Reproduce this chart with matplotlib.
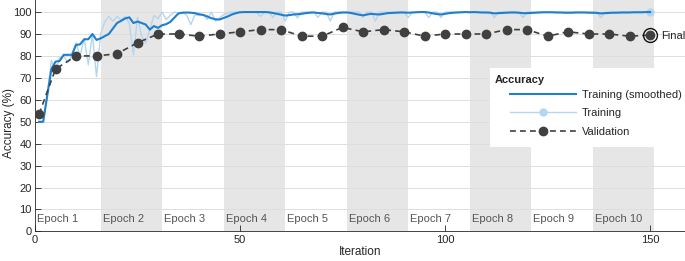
import numpy as np
import matplotlib
matplotlib.use("Agg")
import matplotlib.pyplot as plt
from matplotlib.patches import Rectangle

plt.rcParams['font.family'] = ['Liberation Sans', 'DejaVu Sans']

# training accuracy per iteration (1..150)
train_raw = [50, 50, 63, 78, 73, 79, 80, 77, 80, 86,
             80, 88, 76, 90, 70.5, 90, 95.5, 98, 95.8, 98,
             96.5, 98, 94.8, 80.5, 97.5, 89, 86, 92, 98.5, 97,
             100, 96.6, 98.5, 100, 99.5, 100, 98.5, 94.3, 98.7, 98.5,
             98.9, 96.6, 100, 95.9, 97.3, 98.9, 99.5, 100, 100, 100,
             100, 100, 100, 100, 98, 100, 100, 97.6, 100, 100,
             95.9, 100, 100, 97.3, 100, 100, 100, 100, 97.6, 100,
             100, 95.9, 100, 100, 100, 100, 100, 100, 100, 97.6,
             100, 100, 95.9, 100, 100, 100, 100, 100, 100, 100,
             97.5, 100, 100, 100, 100, 97.5, 100, 100, 97.5, 100,
             100, 100, 100, 100, 100, 100, 100, 100, 100, 100,
             100, 97.5, 100, 100, 100, 100, 100, 100, 97.5, 100,
             100, 100, 100, 100, 100, 100, 100, 100, 100, 100,
             100, 100, 100, 100, 100, 100, 100, 97.5, 100, 100,
             100, 100, 100, 100, 100, 100, 100, 100, 100, 100]

train_smooth = [50, 50, 62, 74, 77.4, 77.7, 80.5, 80.5, 80.5, 85,
                85.3, 87.6, 87.6, 90, 87.3, 88, 89, 90, 92.5, 95,
                96, 97.1, 97.6, 95, 95.7, 95, 94.3, 92, 93.6, 92.8,
                94, 94.5, 95.5, 97.5, 99.4, 99.7, 99.8, 99.7, 99.5, 99,
                98.7, 98, 97.2, 96.7, 96.6, 97.3, 98, 98.9, 99.5, 99.9,
                100, 100, 100, 100, 100, 100, 99.9, 99.6, 99.2, 98.8,
                98.4, 98.6, 98.9, 99, 99.2, 99.5, 99.7, 99.8, 99.6, 99.4,
                99.1, 98.9, 99.3, 99.6, 99.8, 99.8, 99.6, 99.2, 98.8, 98.5,
                98.9, 99.2, 99, 98.9, 99.2, 99.5, 99.6, 99.7, 99.8, 99.8,
                99.7, 99.8, 99.9, 100, 100, 99.8, 99.4, 99.1, 98.9, 99.2,
                99.5, 99.7, 99.8, 99.9, 100, 99.9, 100, 99.9, 99.8, 99.8,
                99.7, 99.4, 99.5, 99.6, 99.7, 99.8, 99.8, 99.7, 99.5, 99.5,
                99.6, 99.7, 99.8, 99.9, 99.9, 99.9, 99.8, 99.8, 99.7, 99.7,
                99.7, 99.8, 99.8, 99.8, 99.7, 99.7, 99.6, 99.4, 99.5, 99.6,
                99.7, 99.7, 99.8, 99.8, 99.8, 99.9, 99.9, 99.9, 100, 100]

val_iters = [1, 5, 10, 15, 20, 25, 30, 35, 40, 45, 50, 55, 60, 65, 70, 75,
             80, 85, 90, 95, 100, 105, 110, 115, 120, 125, 130, 135, 140, 145, 150]
val_acc = [53.5, 74, 80, 80, 81, 86, 90, 90, 89, 90, 91, 92, 92, 89, 89, 93,
           91, 92, 91, 89, 90, 90, 90, 92, 92, 89, 91, 90, 90, 89, 89.5]

epoch_starts = [0, 16, 31, 46, 61, 76, 91, 106, 121, 136]
epoch_labels = ["Epoch 1", "Epoch 2", "Epoch 3", "Epoch 4", "Epoch 5",
                "Epoch 6", "Epoch 7", "Epoch 8", "Epoch 9", "Epoch 10"]

iters = np.arange(1, len(train_raw) + 1)

fig = plt.figure(figsize=(6.85, 2.61), dpi=100)
ax = fig.add_axes([35 / 685, 29.6 / 261, 650 / 685, 231.4 / 261])
ax.set_xlim(0, 158.5)
ax.set_ylim(0, 105.5)
ax.set_axisbelow(True)

for k, s in enumerate(epoch_starts):
    if k % 2 == 1:
        ax.axvspan(s, s + 15, color='#e6e6e6', lw=0, zorder=0)
    ax.text(s + 0.5, 5.5, epoch_labels[k], fontsize=8, color='#555555',
            va='center', ha='left', zorder=2)

ax.yaxis.grid(True, color='#dedede', lw=0.7)
ax.set_yticks(range(0, 101, 10))
ax.set_xticks([0, 50, 100, 150])
ax.tick_params(direction='in', length=4, width=0.6, labelsize=8,
               colors='#262626', pad=2.5)
for side in ['top', 'right']:
    ax.spines[side].set_visible(False)
for side in ['left', 'bottom']:
    ax.spines[side].set_color('#262626')
    ax.spines[side].set_linewidth(0.6)

raw_line, = ax.plot(iters, train_raw, color='#b5d5f0', lw=1, marker='o',
                    ms=5, markevery=[-1], zorder=3)
smooth_line, = ax.plot(iters, train_smooth, color='#1f7fcc', lw=1.5, zorder=4)
val_line, = ax.plot(val_iters, val_acc, color='#404040', lw=1.2,
                    ls=(0, (3.5, 2.5)), marker='o', ms=6, zorder=5)
ax.plot(val_iters[-1], val_acc[-1], 'o', mfc='none', mec='#111111',
        ms=10, mew=1, zorder=6)
ax.text(152.7, val_acc[-1] - 0.5, "Final", fontsize=8, color='#262626',
        va='center', ha='left')

ax.set_xlabel("Iteration", fontsize=8.5, color='#262626', labelpad=1)
ax.set_ylabel("Accuracy (%)", fontsize=8.5, color='#262626', labelpad=1)
ax.yaxis.set_label_coords(-0.031, 0.47)

# legend box
box = Rectangle((490 / 685, 1 - 147 / 261), 195 / 685, 79 / 261,
                transform=fig.transFigure, facecolor='white', edgecolor='none',
                zorder=2.5, clip_on=False)
ax.add_patch(box)
fig.text(495 / 685, 1 - 80 / 261, "Accuracy", fontsize=8, fontweight='bold',
         color='#262626', va='center', ha='left', zorder=7)
ax.legend([smooth_line, raw_line, val_line],
          ["Training (smoothed)", "Training", "Validation"],
          loc='upper left', bbox_to_anchor=(510 / 685, 1 - 90 / 261),
          bbox_transform=fig.transFigure, frameon=False, fontsize=8,
          borderpad=0, borderaxespad=0, handlelength=5.9,
          handletextpad=0.6, labelspacing=0.75, labelcolor='#262626')

fig.savefig("out.png", dpi=100)
